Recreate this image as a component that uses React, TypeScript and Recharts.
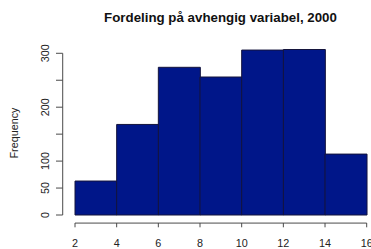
import React from "react";
import { BarChart, Bar, XAxis, YAxis, ReferenceLine } from "recharts";

const binEdges = [2, 4, 6, 8, 10, 12, 14, 16];
const counts = [63, 168, 274, 256, 306, 307, 113];
const yTicks = [0, 50, 100, 150, 200, 250, 300];
const yTickLabels = [0, 50, 100, 200, 300];
const title = "Fordeling på avhengig variabel, 2000";
const yLabel = "Frequency";

const data = counts.map((c, i) => ({
  mid: (binEdges[i] + binEdges[i + 1]) / 2,
  count: c,
}));

const FONT = "'Liberation Sans', Arial, Helvetica, sans-serif";
const AXIS_COLOR = "#4a4a4a";

const XTick = (props: any) => {
  const { x, y, payload } = props;
  return (
    <g>
      <line x1={x} y1={y + 8} x2={x} y2={y + 12.3} stroke={AXIS_COLOR} strokeWidth={1} />
      <text x={x} y={y + 31.7} textAnchor="middle" fontSize={10.8} fontFamily={FONT} fill="#222">
        {payload.value}
      </text>
    </g>
  );
};

const YTick = (props: any) => {
  const { x, y, payload } = props;
  const show = yTickLabels.includes(payload.value);
  const tx = x - 26.5;
  return (
    <g>
      <line x1={x - 19} y1={y} x2={x - 12.3} y2={y} stroke={AXIS_COLOR} strokeWidth={1} />
      {show && (
        <text
          x={tx}
          y={y}
          transform={`rotate(-90 ${tx} ${y})`}
          textAnchor="middle"
          fontSize={10.8}
          fontFamily={FONT}
          fill="#222"
        >
          {payload.value}
        </text>
      )}
    </g>
  );
};

export default function App() {
  return (
    <div style={{ position: "absolute", left: 0, top: 0, width: 371, height: 249, background: "#fff" }}>
      <div
        style={{
          position: "absolute",
          left: 220.5 - 160,
          width: 320,
          top: 10.8,
          textAlign: "center",
          fontFamily: FONT,
          fontWeight: "bold",
          fontSize: 13.3,
          lineHeight: "13px",
          color: "#111",
          whiteSpace: "nowrap",
        }}
      >
        {title}
      </div>
      <BarChart
        width={371}
        height={249}
        data={data}
        margin={{ top: 42.5, right: 4.3, left: 0, bottom: 0 }}
        barCategoryGap={0}
        barGap={0}
      >
        <XAxis
          type="number"
          dataKey="mid"
          domain={[binEdges[0], binEdges[binEdges.length - 1]]}
          ticks={binEdges}
          interval={0}
          axisLine={false}
          tickLine={false}
          tickSize={0}
          tickMargin={0}
          height={34}
          tick={<XTick />}
        />
        <YAxis
          type="number"
          domain={[0, 320]}
          ticks={yTicks}
          interval={0}
          axisLine={false}
          tickLine={false}
          tickSize={0}
          tickMargin={0}
          width={75}
          tick={<YTick />}
          label={{
            content: () => (
              <text
                x={18}
                y={133}
                transform="rotate(-90 18 133)"
                textAnchor="middle"
                fontSize={10.8}
                fontFamily={FONT}
                fill="#222"
              >
                {yLabel}
              </text>
            ),
          }}
        />
        <ReferenceLine
          segment={[
            { x: binEdges[0], y: -15 },
            { x: binEdges[binEdges.length - 1], y: -15 },
          ]}
          stroke={AXIS_COLOR}
          strokeWidth={1}
          ifOverflow="visible"
        />
        <ReferenceLine
          segment={[
            { x: 1.41, y: yTicks[0] },
            { x: 1.41, y: yTicks[yTicks.length - 1] },
          ]}
          stroke={AXIS_COLOR}
          strokeWidth={1}
          ifOverflow="visible"
        />
        <Bar dataKey="count" fill="#001689" stroke="#14143c" strokeWidth={1} isAnimationActive={false} />
      </BarChart>
    </div>
  );
}
